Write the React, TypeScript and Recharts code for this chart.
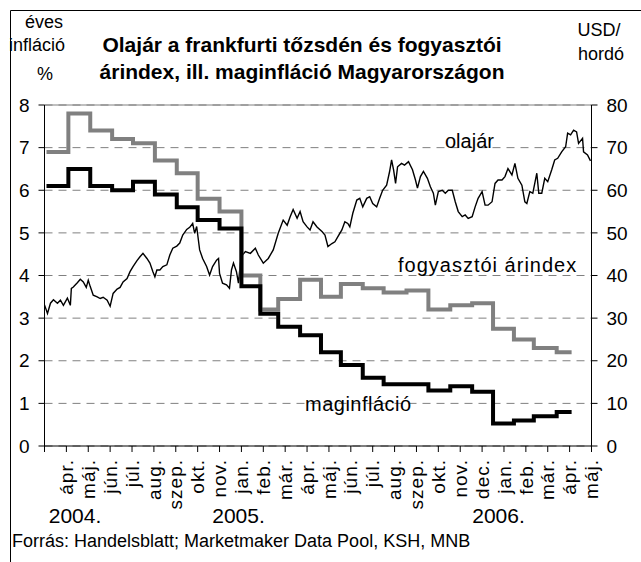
import React from 'react';
import { CartesianGrid, ComposedChart, Line, ReferenceLine, XAxis, YAxis } from 'recharts';

// ─── Data ────────────────────────────────────────────────────────────

// x axis = trading-day index, one tick every 22 days
const MONTHS = [
  'ápr.', 'máj.', 'jún.', 'júl.', 'aug.', 'szep.', 'okt.', 'nov.', 'jan.', 'feb.', 'már.', 'ápr.', 'máj.',
  'jún.', 'júl.', 'aug.', 'szep.', 'okt.', 'nov.', 'dec.', 'jan.', 'feb.', 'már.', 'ápr.', 'máj.',
];
const TICK_STEP = 22;
const DAY_TICKS = [0, ...MONTHS.map((_, i) => (i + 1) * TICK_STEP)];
const LEFT_TICKS = [0, 1, 2, 3, 4, 5, 6, 7, 8];
const RIGHT_TICKS = [0, 10, 20, 30, 40, 50, 60, 70, 80];

// monthly figures: first trading day of each month, last day of data
const MONTH_START = [2, 24, 46, 68, 89, 111, 133, 154, 176, 198, 217, 235, 257, 278, 298, 320, 341, 364, 386, 408, 430, 451, 472, 492, 515];
const LAST_DAY = 530;
const CPI = [6.9, 7.8, 7.4, 7.2, 7.1, 6.7, 6.4, 5.8, 5.5, 4.0, 3.2, 3.45, 3.9, 3.5, 3.8, 3.7, 3.6, 3.65, 3.2, 3.3, 3.35, 2.75, 2.5, 2.3, 2.2];
const CORE = [6.1, 6.5, 6.1, 6.0, 6.2, 5.9, 5.6, 5.3, 5.1, 3.75, 3.1, 2.8, 2.6, 2.2, 1.9, 1.6, 1.45, 1.45, 1.3, 1.4, 1.27, 0.53, 0.6, 0.7, 0.8];

// oil price, USD/barrel
const OIL_DAY = [
  0, 3, 6, 9, 13, 16, 19, 23, 26, 27, 29, 33, 36, 39, 42, 44, 46, 49, 53, 56, 59, 63, 66, 69, 73, 76, 79, 83, 86, 89,
  93, 96, 99, 103, 106, 109, 111, 113, 116, 119, 123, 126, 129, 133, 136, 139, 143, 146, 149, 151, 153, 156, 159, 163,
  166, 169, 173, 175, 176, 179, 183, 186, 188, 190, 193, 195, 197, 199, 202, 207, 212, 215, 220, 225, 230, 235, 240,
  244, 247, 250, 254, 257, 260, 264, 267, 270, 274, 279, 282, 285, 289, 292, 295, 299, 302, 305, 307, 310, 314, 317,
  320, 324, 327, 330, 334, 337, 340, 344, 347, 349, 351, 353, 355, 359, 362, 366, 370, 373, 375, 378, 381, 385, 388,
  391, 393, 396, 400, 403, 406, 410, 413, 416, 420, 423, 426, 430, 433, 436, 440, 443, 446, 450, 453, 456, 460, 463,
  466, 470, 473, 476, 480, 483, 485, 488, 491, 495, 497, 500, 503, 506, 510, 513, 516, 520, 524, 526, 529, 532, 535,
  537, 541, 542, 546, 549,
];
const OIL_PRICE = [
  33.1, 31.1, 33.5, 34.3, 33.5, 34.2, 33.0, 34.7, 33.0, 37.0, 37.3, 38.3, 39.1, 38.5, 37.2, 38.9, 37.4, 35.4, 35.0, 34.6,
  34.9, 34.2, 32.8, 35.8, 36.8, 37.2, 38.5, 39.3, 40.9, 42.1, 43.5, 44.4, 45.2, 44.0, 42.9, 40.9, 39.7, 41.3, 41.3, 42.1,
  42.5, 44.8, 46.4, 46.9, 47.6, 49.5, 50.8, 51.3, 52.2, 49.9, 51.5, 46.0, 44.0, 42.1, 40.1, 42.1, 43.6, 44.0, 40.5, 38.2,
  37.8, 37.0, 41.3, 42.9, 40.9, 38.2, 42.9, 44.8, 45.6, 45.2, 46.4, 44.8, 42.9, 44.0, 46.0, 49.9, 53.0, 51.8, 53.8, 55.5,
  53.4, 55.0, 52.6, 51.4, 50.7, 52.6, 51.4, 50.3, 49.5, 46.8, 47.5, 47.9, 49.1, 50.7, 52.6, 52.2, 51.4, 54.6, 57.7, 58.1,
  56.1, 58.1, 58.5, 56.9, 56.1, 58.1, 60.0, 61.2, 64.4, 67.1, 64.8, 61.6, 65.5, 66.3, 65.9, 66.7, 64.8, 62.4, 60.5, 63.2,
  64.4, 62.8, 60.8, 59.3, 56.5, 59.7, 60.0, 59.3, 60.0, 60.0, 57.3, 55.0, 53.8, 54.2, 53.4, 53.8, 56.1, 58.1, 59.7, 56.5,
  56.5, 57.3, 61.6, 62.4, 62.4, 63.2, 65.1, 63.6, 66.3, 62.8, 61.2, 57.3, 56.9, 59.7, 59.3, 64.0, 59.3, 59.3, 62.8, 62.0,
  64.8, 67.1, 67.5, 69.0, 70.2, 73.4, 73.0, 74.1, 73.7, 71.0, 72.2, 69.0, 68.3, 66.9,
];

const YEARS = ['2004.', '2005.', '2006.'];

// ─── Helpers ─────────────────────────────────────────────────────────

const FONT = '"Liberation Sans", Arial, Helvetica, sans-serif';

function stepSeries(values: number[]) {
  const pts = values.map((v, i) => ({ d: MONTH_START[i], v }));
  pts.push({ d: LAST_DAY, v: values[values.length - 1] });
  return pts;
}

const cpiData = stepSeries(CPI);
const coreData = stepSeries(CORE);
const oilData = OIL_DAY.map((d, i) => ({ d, v: OIL_PRICE[i] }));

const MonthTick = ({ x, y, payload }: any) => {
  const i = Math.round(payload.value / TICK_STEP) - 1;
  if (i < 0) return null;
  const ty = y + 5;
  return (
    <text
      x={x}
      y={ty}
      transform={`rotate(-90, ${x}, ${ty})`}
      textAnchor="end"
      dy="0.35em"
      fontSize={19}
      letterSpacing={1}
      fill="#000"
    >
      {MONTHS[i]}
    </text>
  );
};

// ─── Component ───────────────────────────────────────────────────────

export default function App() {
  return (
    <div
      style={{
        position: 'absolute',
        left: 0,
        top: 0,
        width: 641,
        height: 562,
        background: '#fff',
        overflow: 'hidden',
        fontFamily: FONT,
      }}
    >
      <ComposedChart width={641} height={562} margin={{ top: 105, right: 0, bottom: 0, left: 0 }}>
        <CartesianGrid yAxisId="l" vertical={false} stroke="#808080" strokeDasharray="8 6" />
        <ReferenceLine yAxisId="l" y={8} stroke="#808080" />
        <XAxis
          type="number"
          dataKey="d"
          domain={[0, 550]}
          ticks={DAY_TICKS}
          interval={0}
          height={116}
          stroke="#000"
          tickSize={6}
          tick={<MonthTick />}
          allowDataOverflow
        />
        <YAxis
          yAxisId="l"
          domain={[0, 8]}
          ticks={LEFT_TICKS}
          width={44.5}
          stroke="#000"
          tickSize={6}
          tickMargin={9}
          tick={{ fill: '#000', fontSize: 19 }}
          interval={0}
        />
        <YAxis
          yAxisId="r"
          orientation="right"
          domain={[0, 80]}
          ticks={RIGHT_TICKS}
          width={49.5}
          stroke="#000"
          tickSize={6}
          tickMargin={9}
          tick={{ fill: '#000', fontSize: 19 }}
          interval={0}
        />
        <Line
          yAxisId="r"
          data={oilData}
          dataKey="v"
          type="linear"
          stroke="#000"
          strokeWidth={1.4}
          dot={false}
          isAnimationActive={false}
        />
        <Line
          yAxisId="l"
          data={cpiData}
          dataKey="v"
          type="stepAfter"
          stroke="#808080"
          strokeWidth={4}
          dot={false}
          isAnimationActive={false}
        />
        <Line
          yAxisId="l"
          data={coreData}
          dataKey="v"
          type="stepAfter"
          stroke="#000"
          strokeWidth={4}
          dot={false}
          isAnimationActive={false}
        />
      </ComposedChart>

      <svg
        width={641}
        height={562}
        style={{ position: 'absolute', left: 0, top: 0, pointerEvents: 'none' }}
        fontFamily={FONT}
      >
        <path d="M10.5 562 V10.5 H641" fill="none" stroke="#000" strokeWidth={1} />
        <text x={302} y={52} textAnchor="middle" fontSize={21} fontWeight="bold">
          Olajár a frankfurti tőzsdén és fogyasztói
        </text>
        <text x={302} y={79} textAnchor="middle" fontSize={21} fontWeight="bold">
          árindex, ill. maginfláció Magyarországon
        </text>
        <text x={44} y={28} textAnchor="middle" fontSize={18}>éves</text>
        <text x={37} y={51} textAnchor="middle" fontSize={18}>infláció</text>
        <text x={45} y={80} textAnchor="middle" fontSize={18}>%</text>
        <text x={599} y={36} textAnchor="middle" fontSize={18}>USD/</text>
        <text x={601} y={60} textAnchor="middle" fontSize={18}>hordó</text>
        <text x={445} y={148} fontSize={20}>olajár</text>
        <text x={398} y={272} fontSize={20} letterSpacing={1}>fogyasztói árindex</text>
        <text x={305} y={411} fontSize={20} letterSpacing={0.5}>maginfláció</text>
        <text x={75} y={523} textAnchor="middle" fontSize={21}>{YEARS[0]}</text>
        <text x={238.5} y={523} textAnchor="middle" fontSize={21}>{YEARS[1]}</text>
        <text x={498.5} y={523} textAnchor="middle" fontSize={21}>{YEARS[2]}</text>
        <text x={12} y={547} fontSize={18}>Forrás: Handelsblatt; Marketmaker Data Pool, KSH, MNB</text>
      </svg>
    </div>
  );
}
